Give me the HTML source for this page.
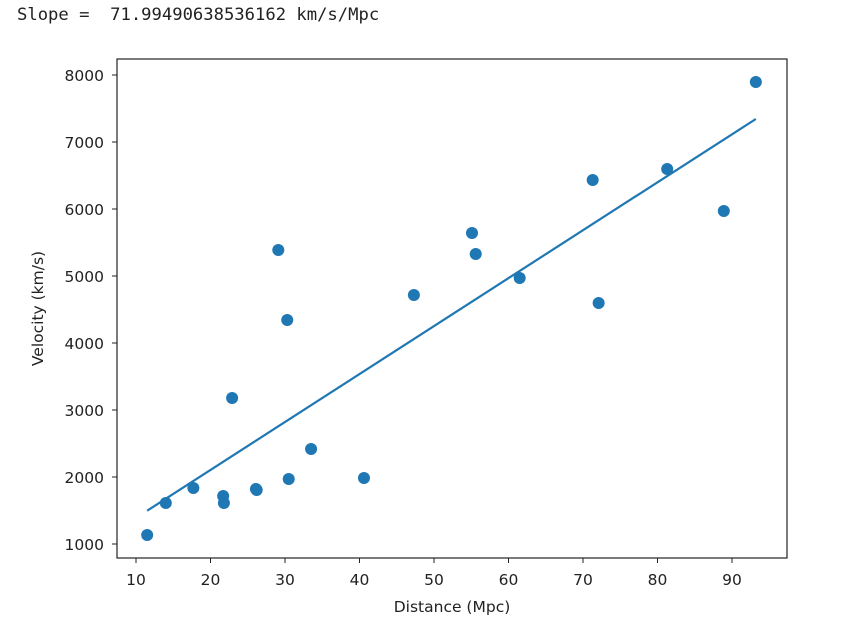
<!DOCTYPE html>
<html><head><meta charset="utf-8"><style>
body{margin:0;background:#fff;width:847px;height:640px;overflow:hidden;position:relative}
#out{position:absolute;left:17px;top:5px;font:17.2px "DejaVu Sans Mono","Liberation Mono",monospace;color:#222;white-space:pre}
svg{position:absolute;left:0;top:0}
text{font-family:"DejaVu Sans","Liberation Sans",sans-serif;font-size:15.5px;fill:#222}
</style></head><body>
<div id="out">Slope =  71.99490638536162 km/s/Mpc</div>
<svg id="chart" width="847" height="640"></svg>
<script>
const distances=[11.5,14.0,17.7,21.7,21.8,22.9,26.1,26.2,29.1,30.3,30.5,33.5,40.6,47.3,55.1,55.6,61.5,71.3,72.1,81.3,88.9,93.2];
const velocities=[1134,1612,1836,1716,1612,3179,1821,1806,5388,4343,1970,2418,1985,4716,5642,5328,4970,6433,4597,6597,5970,7896];
const xTicks=[10,20,30,40,50,60,70,80,90];
const yTicks=[1000,2000,3000,4000,5000,6000,7000,8000];
const L=117,R=787,T=59,B=558;
const sx=d=>136+7.45*(d-10);
const sy=v=>544-0.067*(v-1000);
const NS='http://www.w3.org/2000/svg';
const svg=document.getElementById('chart');
function mk(t,a){const e=document.createElementNS(NS,t);for(const k in a)e.setAttribute(k,a[k]);svg.appendChild(e);return e;}
distances.forEach((d,i)=>{
  const c=mk('circle',{cx:sx(d),cy:sy(velocities[i]),r:6,fill:'#1f77b4'});
  
  
});
const n=distances.length,mx=distances.reduce((a,b)=>a+b)/n,my=velocities.reduce((a,b)=>a+b)/n;
let sxy=0,sxx=0;distances.forEach((d,i)=>{sxy+=(d-mx)*(velocities[i]-my);sxx+=(d-mx)*(d-mx);});
const m=sxy/sxx,b0=my-m*mx;
const x0=Math.min(...distances),x1=Math.max(...distances);
const ln=mk('line',{x1:sx(x0),y1:sy(m*x0+b0),x2:sx(x1),y2:sy(m*x1+b0),stroke:'#1f77b4','stroke-width':2.2});


const fr=mk('rect',{x:L,y:T,width:R-L,height:B-T,fill:'none',stroke:'#222','stroke-width':1.2});


xTicks.forEach(t=>{
  const x=sx(t);
  mk('line',{x1:x,y1:B,x2:x,y2:B+5,stroke:'#222','stroke-width':1});
  const tx=mk('text',{x:x,y:B+27,'text-anchor':'middle'});tx.textContent=t;
  
  
});
yTicks.forEach(t=>{
  const y=sy(t);
  mk('line',{x1:L-5,y1:y,x2:L,y2:y,stroke:'#222','stroke-width':1});
  const tx=mk('text',{x:L-13,y:y+6,'text-anchor':'end'});tx.textContent=t;
  
  
});
const xt=mk('text',{x:(L+R)/2,y:612,'text-anchor':'middle'});xt.textContent='Distance (Mpc)';


const yt=mk('text',{x:43,y:(T+B)/2,'text-anchor':'middle',transform:`rotate(-90 43 ${(T+B)/2})`});yt.textContent='Velocity (km/s)';


</script>
</body></html>
